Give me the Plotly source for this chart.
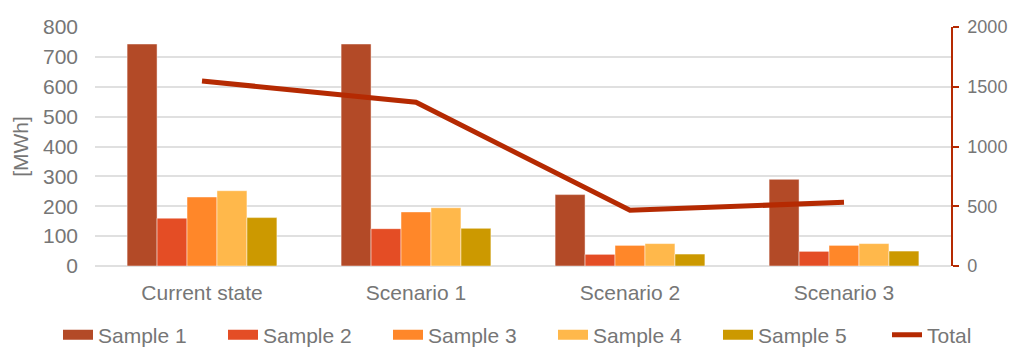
import plotly.graph_objects as go

# Energy demand per scenario
categories = ["Current state", "Scenario 1", "Scenario 2", "Scenario 3"]
sample_names = ["Sample 1", "Sample 2", "Sample 3", "Sample 4", "Sample 5"]
sample_1 = [743, 743, 239, 290]
sample_2 = [160, 125, 39, 49]
sample_3 = [231, 181, 69, 69]
sample_4 = [252, 195, 75, 75]
sample_5 = [162, 126, 40, 50]
total = [1548, 1370, 466, 533]

left_ticks = [0, 100, 200, 300, 400, 500, 600, 700, 800]
right_ticks = [0, 500, 1000, 1500, 2000]

sample_colors = ["#B34A27", "#E44D25", "#FF8729", "#FFB84B", "#CC9900"]
total_color = "#B52A02"
text_color = "#767676"
grid_color = "#E0E0E0"
font_family = "Liberation Sans, Arial, sans-serif"
font_size = 21
right_font_size = 18

fig = go.Figure()

for name, values, color in zip(
    sample_names, [sample_1, sample_2, sample_3, sample_4, sample_5], sample_colors
):
    fig.add_trace(
        go.Bar(
            x=categories,
            y=values,
            name=name,
            marker=dict(color=color, line=dict(color="rgba(255,255,255,0.45)", width=1)),
            showlegend=False,
        )
    )
    # Wide swatch for the legend entry
    fig.add_trace(
        go.Scatter(
            x=[None],
            y=[None],
            mode="lines",
            name=name,
            line=dict(color=color, width=11),
        )
    )

fig.add_trace(
    go.Scatter(
        x=categories,
        y=total,
        name="Total",
        mode="lines",
        yaxis="y2",
        legend="legend2",
        line=dict(color=total_color, width=5, shape="linear"),
    )
)

legend_common = dict(
    orientation="h",
    xref="container",
    yref="container",
    xanchor="left",
    y=14 / 349,
    yanchor="middle",
    font=dict(size=font_size, color=text_color),
    bgcolor="rgba(0,0,0,0)",
    traceorder="normal",
)

fig.update_layout(
    width=1019,
    height=349,
    margin=dict(l=95, r=68, t=27, b=83),
    paper_bgcolor="white",
    plot_bgcolor="white",
    font=dict(family=font_family, size=font_size, color=text_color),
    barmode="group",
    bargap=0.3,
    bargroupgap=0,
    xaxis=dict(
        automargin=False,
        showgrid=False,
        showline=False,
        ticks="",
        ticklabelstandoff=12,
        tickfont=dict(size=font_size, color=text_color),
    ),
    yaxis=dict(
        automargin=False,
        range=[0, 800],
        tickvals=left_ticks,
        showgrid=True,
        gridcolor=grid_color,
        gridwidth=1.5,
        zeroline=True,
        zerolinecolor=grid_color,
        zerolinewidth=1.5,
        showline=False,
        ticks="",
        ticklabelstandoff=16,
        title=dict(text="[MWh]", standoff=8, font=dict(size=font_size, color=text_color)),
        tickfont=dict(size=font_size, color=text_color),
    ),
    yaxis2=dict(
        automargin=False,
        range=[0, 2000],
        tickvals=right_ticks,
        overlaying="y",
        side="right",
        showgrid=False,
        zeroline=False,
        showline=True,
        linecolor=total_color,
        linewidth=1.5,
        ticks="outside",
        ticklen=6,
        tickwidth=1.5,
        tickcolor=total_color,
        ticklabelstandoff=5,
        ticklabeloverflow="allow",
        tickfont=dict(size=right_font_size, color=text_color),
    ),
    legend=dict(legend_common, x=58 / 1019, entrywidth=120, entrywidthmode="pixels"),
    legend2=dict(legend_common, x=887 / 1019),
)

# Pin the figure to the top-left corner of the page and hide scrollbars
page_style = """
var css = document.createElement('style');
css.textContent = 'html,body{margin:0;padding:0;overflow:hidden;scrollbar-width:none;}'
  + '::-webkit-scrollbar{display:none;width:0;height:0;}'
  + '.plotly-graph-div{position:fixed;left:0;top:0;}';
document.head.appendChild(css);
"""

fig.write_html("out.html", post_script=page_style)
